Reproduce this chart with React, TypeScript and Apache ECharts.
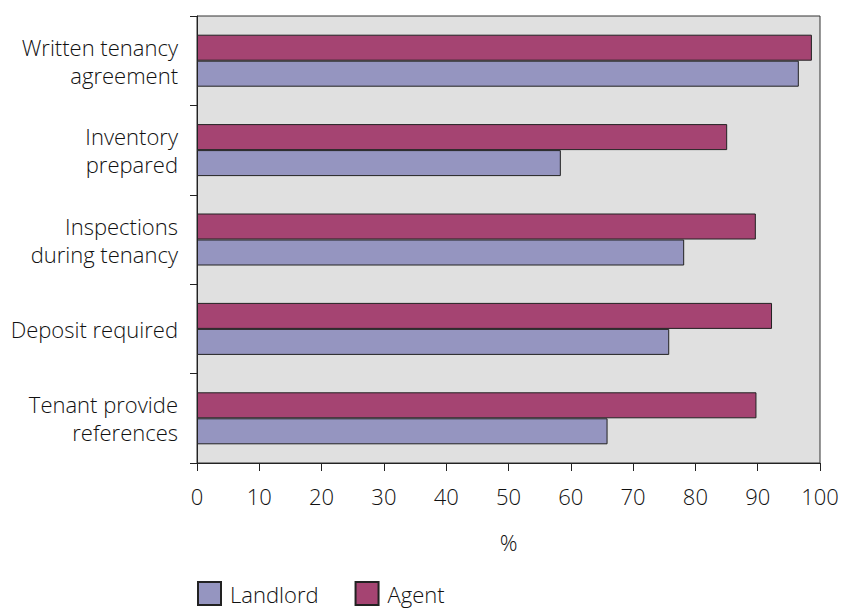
import React, { useEffect, useRef } from "react";
import * as echarts from "echarts";

const categories = [
  "Written tenancy\nagreement",
  "Inventory\nprepared",
  "Inspections\nduring tenancy",
  "Deposit required",
  "Tenant provide\nreferences",
];
const landlord = [96.6, 58.4, 78.2, 75.8, 65.9];
const agent = [98.7, 85.1, 89.7, 92.3, 89.8];
const xTicks = [0, 10, 20, 30, 40, 50, 60, 70, 80, 90, 100];

const FONT = "'Open Sans', 'Noto Sans', sans-serif";
const TXT = "#111";
const W = 350;

export default function App() {
  const ref = useRef<HTMLDivElement>(null);
  useEffect(() => {
    if (!ref.current) return;
    const chart = echarts.init(ref.current, undefined, { renderer: "svg" });
    chart.setOption({
      animation: false,
      textStyle: { fontFamily: FONT },
      grid: {
        left: 197,
        right: 24,
        top: 16,
        bottom: 145,
        show: true,
        backgroundColor: "#e0e0e0",
        borderColor: "#333",
        borderWidth: 1,
      },
      legend: {
        left: 197,
        top: 581,
        itemWidth: 23,
        itemHeight: 23,
        itemGap: 36,
        icon: "rect",
        padding: 0,
        textStyle: {
          fontSize: 22,
          lineHeight: 20,
          color: TXT,
          fontFamily: FONT,
          fontWeight: W,
          padding: [0, 0, 0, 4],
        },
        data: ["Landlord", "Agent"],
      },
      xAxis: {
        type: "value",
        min: xTicks[0],
        max: xTicks[xTicks.length - 1],
        interval: 10,
        name: "%",
        nameLocation: "middle",
        nameGap: 68,
        nameTextStyle: { fontSize: 22, color: TXT, fontFamily: FONT, fontWeight: W },
        axisLine: { show: true, lineStyle: { color: "#222", width: 1 } },
        axisTick: { show: true, length: 8, lineStyle: { color: "#222" } },
        axisLabel: { fontSize: 22, color: TXT, margin: 22, fontFamily: FONT, fontWeight: W },
        splitLine: { show: false },
      },
      yAxis: {
        type: "category",
        inverse: true,
        data: categories,
        axisLine: { show: true, lineStyle: { color: "#222", width: 1 } },
        axisTick: { show: true, length: 7, lineStyle: { color: "#222" } },
        axisLabel: {
          fontSize: 22,
          color: TXT,
          margin: 19,
          lineHeight: 28,
          align: "right",
          fontFamily: FONT,
          fontWeight: W,
        },
      },
      series: [
        {
          name: "Agent",
          type: "bar",
          data: agent,
          barWidth: 26,
          barGap: "0%",
          itemStyle: { color: "#a54472", borderColor: "#222", borderWidth: 1 },
        },
        {
          name: "Landlord",
          type: "bar",
          data: landlord,
          barWidth: 26,
          barGap: "0%",
          itemStyle: { color: "#9595c0", borderColor: "#222", borderWidth: 1 },
        },
      ],
    });
    return () => chart.dispose();
  }, []);
  return <div ref={ref} style={{ width: 844, height: 608, position: "absolute", left: 0, top: 0 }} />;
}
